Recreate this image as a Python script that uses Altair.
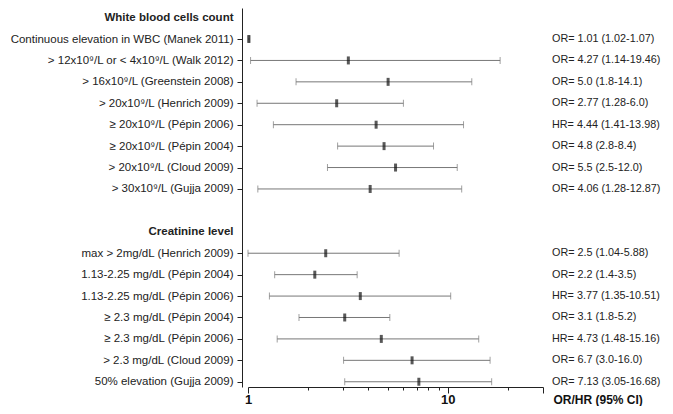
import json
import altair as alt
import pandas as pd

# ---- data ----
titles = ["White blood cells count", "Creatinine level"]
title_rows = [0, 10]

labels = [
    "Continuous elevation in WBC (Manek 2011)",
    "> 12x10⁹/L or < 4x10⁹/L (Walk 2012)",
    "> 16x10⁹/L (Greenstein 2008)",
    "> 20x10⁹/L (Henrich 2009)",
    "≥ 20x10⁹/L (Pépin 2006)",
    "≥ 20x10⁹/L (Pépin 2004)",
    "> 20x10⁹/L (Cloud 2009)",
    "> 30x10⁹/L (Gujja 2009)",
    "max > 2mg/dL (Henrich 2009)",
    "1.13-2.25 mg/dL (Pépin 2004)",
    "1.13-2.25 mg/dL (Pépin 2006)",
    "≥ 2.3 mg/dL (Pépin 2004)",
    "≥ 2.3 mg/dL (Pépin 2006)",
    "> 2.3 mg/dL (Cloud 2009)",
    "50% elevation (Gujja 2009)",
]
rows = [1, 2, 3, 4, 5, 6, 7, 8, 11, 12, 13, 14, 15, 16, 17]
estimate = [1.01, 3.18, 5.03, 2.78, 4.38, 4.80, 5.48, 4.09,
            2.45, 2.16, 3.65, 3.05, 4.65, 6.63, 7.17]
ci_low = [1.00, 1.03, 1.74, 1.11, 1.34, 2.81, 2.50, 1.12,
          1.00, 1.36, 1.28, 1.80, 1.40, 3.01, 3.05]
ci_high = [1.02, 18.3, 13.2, 6.0, 12.0, 8.49, 11.16, 11.75,
           5.71, 3.52, 10.35, 5.13, 14.3, 16.3, 16.6]
result_text = [
    "OR= 1.01 (1.02-1.07)",
    "OR= 4.27 (1.14-19.46)",
    "OR= 5.0 (1.8-14.1)",
    "OR= 2.77 (1.28-6.0)",
    "HR= 4.44 (1.41-13.98)",
    "OR= 4.8 (2.8-8.4)",
    "OR= 5.5 (2.5-12.0)",
    "OR= 4.06 (1.28-12.87)",
    "OR= 2.5 (1.04-5.88)",
    "OR= 2.2 (1.4-3.5)",
    "HR= 3.77 (1.35-10.51)",
    "OR= 3.1 (1.8-5.2)",
    "HR= 4.73 (1.48-15.16)",
    "OR= 6.7 (3.0-16.0)",
    "OR= 7.13 (3.05-16.68)",
]
x_ticks = [1, 2, 3, 4, 5, 6, 7, 8, 9, 10, 20, 30]
x_labeled = [1, 10]

# ---- build ----
df = pd.DataFrame({"row": rows, "label": labels, "est": estimate,
                   "lo": ci_low, "hi": ci_high, "txt": result_text})

lab_map = {r: l for r, l in zip(rows, labels)}
for r, t in zip(title_rows, titles):
    lab_map[r] = t
y_vals = sorted(lab_map.keys())
lab_arr = [lab_map.get(i, "") for i in range(max(y_vals) + 1)]
label_expr = json.dumps(lab_arr) + "[datum.value]"
title_test = " || ".join(f"datum.value == {r}" for r in title_rows)

W, H = 295, 379
FONT = "Liberation Sans"
FS = 11.5
FS_R = 10.8

x_scale = alt.Scale(type="log", domain=[1, 30], nice=False)
y_scale = alt.Scale(domain=[-0.448, 17.245], reverse=True, nice=False, zero=False)

major_test = " || ".join(f"datum.value == {v}" for v in x_labeled + [30])
lab_test = " || ".join(f"datum.value == {v}" for v in x_labeled)

x_axis = alt.Axis(
    values=x_ticks, grid=False, labelFlush=False, labelOverlap=False,
    labelExpr=f"({lab_test}) ? format(datum.value, 'd') : ''",
    labelFont=FONT, labelFontSize=13, labelFontWeight="bold", labelColor="#111",
    labelPadding=0,
    tickSize=alt.condition(major_test, alt.value(6), alt.value(3)),
    tickColor="#222", domainColor="#222",
    title="OR/HR (95% CI)", titleFont=FONT, titleFontSize=12,
    titleFontWeight="bold", titleColor="#111",
    titleX=W + 10, titleY=12, titleAlign="left", titleBaseline="middle",
    titleAnchor="start",
)
y_axis = alt.Axis(
    values=y_vals, grid=False, labelExpr=label_expr, labelOverlap=False,
    labelFlush=False, labelBound=False, labelLimit=0,
    labelFont=FONT, labelFontSize=FS, labelColor="#222",
    labelFontWeight=alt.condition(title_test, alt.value("bold"), alt.value("normal")),
    tickOpacity=alt.condition(title_test, alt.value(0), alt.value(1)),
    tickSize=5, labelPadding=4, offset=6,
    tickColor="#222", domainColor="#222", title=None,
)

x_lo = alt.X("lo:Q", scale=x_scale, axis=x_axis)
x_hi = alt.X("hi:Q", scale=x_scale, axis=x_axis)
x_est = alt.X("est:Q", scale=x_scale, axis=x_axis)
y_enc = alt.Y("row:Q", scale=y_scale, axis=y_axis)

base = alt.Chart(df)

ci = base.mark_rule(color="#777777", strokeWidth=1).encode(
    x=x_lo, x2="hi:Q", y=y_enc)
cap_lo = base.mark_tick(orient="vertical", size=7, thickness=1,
                        color="#777777").encode(x=x_lo, y=y_enc)
cap_hi = base.mark_tick(orient="vertical", size=7, thickness=1,
                        color="#777777").encode(x=x_hi, y=y_enc)
pt = base.mark_tick(orient="vertical", size=8, thickness=3,
                    color="#111111").encode(x=x_est, y=y_enc)
txt = base.mark_text(align="left", baseline="middle", font=FONT, fontSize=FS_R,
                     color="#222222").encode(
    x=alt.value(W + 9), y=y_enc, text="txt:N")

chart = alt.layer(ci, cap_lo, cap_hi, pt, txt).properties(
    width=W, height=H,
    autosize=alt.AutoSizeParams(type="none"),
    padding={"left": 240, "top": 0, "right": 122, "bottom": 19},
).configure(background="white").configure_view(stroke=None).configure_axis(
    labelOverlap=False
)

chart.save("out.html", embed_options={"renderer": "svg", "actions": False})
